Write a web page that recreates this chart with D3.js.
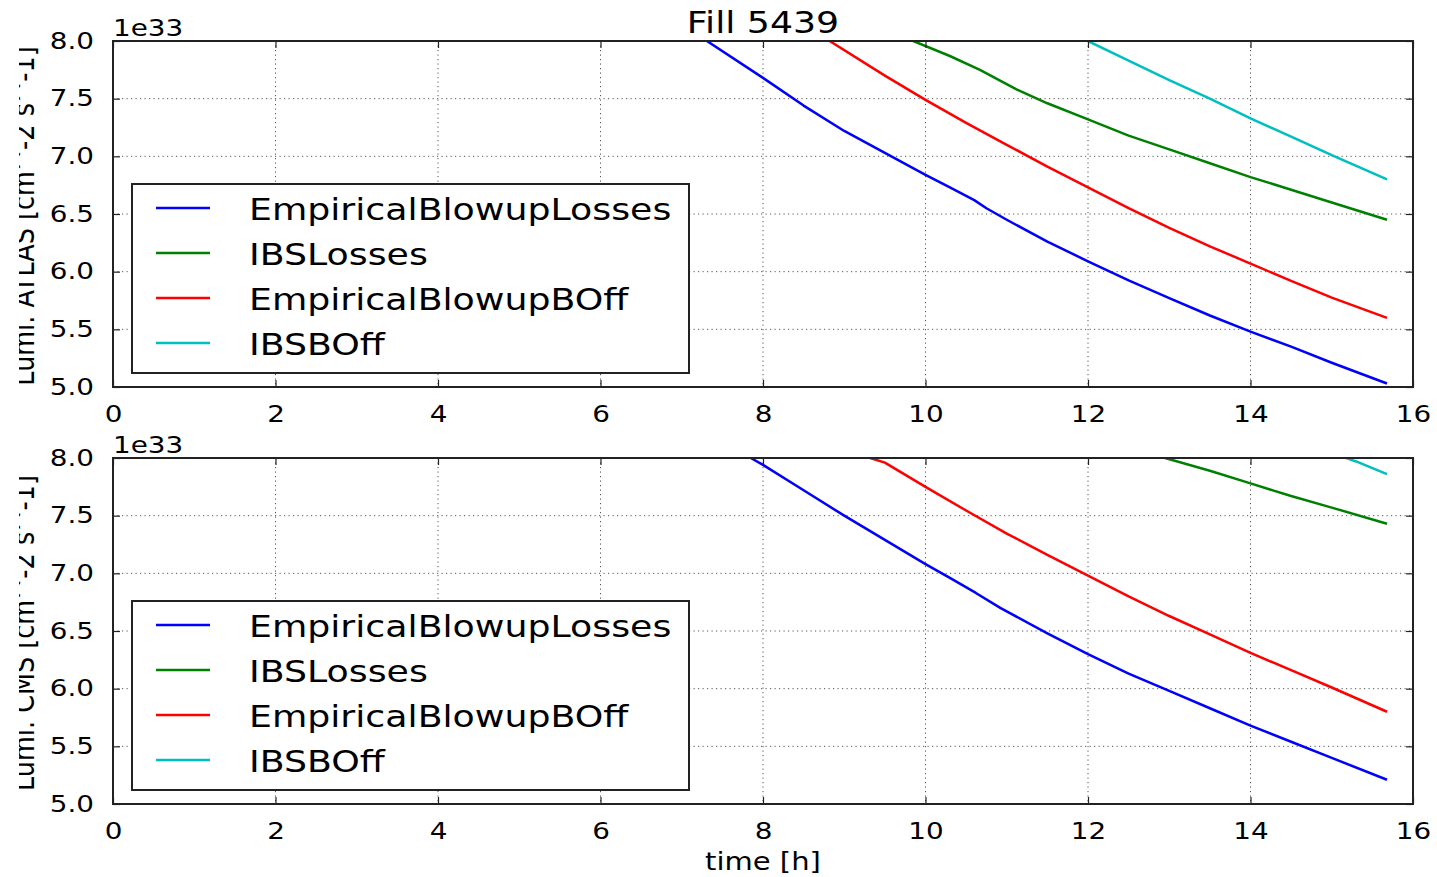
<!DOCTYPE html>
<html>
<head>
<meta charset="utf-8">
<script src="https://cdn.jsdelivr.net/npm/d3@7"></script>
<style>
  html, body { margin: 0; padding: 0; background: #fff; }
  svg { display: block; }
  text { font-family: "DejaVu Sans", sans-serif; fill: #000; }
</style>
</head>
<body>
<svg id="chart" width="1437" height="877"></svg>
<script>
// ---------------- data (luminosity in units of 1e33) ----------------
const seriesNames = ["EmpiricalBlowupLosses", "IBSLosses", "EmpiricalBlowupBOff", "IBSBOff"];
const seriesColors = ["#0000ff", "#008000", "#ff0000", "#00bfbf"];

const xTicks = [0, 2, 4, 6, 8, 10, 12, 14, 16];
const yTicks = [5.0, 5.5, 6.0, 6.5, 7.0, 7.5, 8.0];

// ATLAS panel
const atlasBlowupLossesT = [7.0, 7.31, 8.0, 8.5, 9.0, 9.5, 10.0, 10.3, 10.6, 10.75, 11.0, 11.5, 12.0, 12.5, 13.0, 13.5, 14.0, 14.5, 15.0, 15.68];
const atlasBlowupLossesV = [8.15, 8.0, 7.68, 7.44, 7.22, 7.03, 6.84, 6.73, 6.62, 6.55, 6.45, 6.26, 6.09, 5.925, 5.77, 5.62, 5.48, 5.35, 5.21, 5.03];
const atlasIBSLossesT = [9.6, 9.85, 10.3, 10.67, 11.12, 11.5, 12.0, 12.5, 13.0, 13.5, 14.0, 14.5, 15.0, 15.68];
const atlasIBSLossesV = [8.08, 8.0, 7.87, 7.75, 7.58, 7.46, 7.32, 7.18, 7.06, 6.94, 6.82, 6.71, 6.60, 6.45];
const atlasBlowupBOffT = [8.5, 8.82, 9.5, 10.0, 10.5, 11.0, 11.5, 12.0, 12.5, 13.0, 13.5, 14.0, 14.5, 15.0, 15.68];
const atlasBlowupBOffV = [8.15, 8.0, 7.70, 7.49, 7.29, 7.10, 6.91, 6.73, 6.55, 6.38, 6.22, 6.07, 5.92, 5.775, 5.60];
const atlasIBSBOffT = [11.7, 12.0, 12.5, 13.0, 13.5, 14.0, 14.5, 15.0, 15.68];
const atlasIBSBOffV = [8.10, 8.0, 7.83, 7.66, 7.50, 7.33, 7.17, 7.01, 6.80];

// CMS panel
const cmsBlowupLossesT = [7.6, 7.85, 8.0, 8.5, 9.0, 9.5, 10.0, 10.3, 10.62, 10.92, 11.5, 12.0, 12.5, 13.0, 13.5, 14.0, 14.5, 15.0, 15.68];
const cmsBlowupLossesV = [8.1, 8.0, 7.94, 7.72, 7.50, 7.29, 7.08, 6.96, 6.83, 6.70, 6.48, 6.30, 6.13, 5.98, 5.83, 5.68, 5.54, 5.40, 5.21];
const cmsIBSLossesT = [12.5, 12.95, 13.5, 14.0, 14.5, 15.0, 15.68];
const cmsIBSLossesV = [8.10, 8.0, 7.89, 7.78, 7.67, 7.57, 7.43];
const cmsBlowupBOffT = [9.0, 9.32, 9.5, 10.0, 10.5, 11.0, 11.5, 12.0, 12.5, 13.0, 13.5, 14.0, 14.5, 15.0, 15.68];
const cmsBlowupBOffV = [8.06, 8.0, 7.96, 7.75, 7.545, 7.345, 7.16, 6.98, 6.80, 6.63, 6.47, 6.31, 6.16, 6.01, 5.80];
const cmsIBSBOffT = [14.8, 15.18, 15.3, 15.68];
const cmsIBSBOffV = [8.1, 8.0, 7.97, 7.86];

const titleText = "Fill 5439";
const xLabel = "time [h]";
const offsetText = "1e33";

// ---------------- layout ----------------
const W = 1437, H = 877;
const left = 113, right = 1413;
const SX = 1.21; // horizontal glyph stretch of the reference
const svg = d3.select("#chart");

const x = d3.scaleLinear().domain([0, 16]).range([left, right]);

function zip(t, v) { return t.map((d, i) => ({ t: d, v: v[i] })); }

const panels = [
  {
    top: 41, bottom: 387, ylabel: "Lumi. ATLAS [cm^-2 s^-1]",
    series: [zip(atlasBlowupLossesT, atlasBlowupLossesV), zip(atlasIBSLossesT, atlasIBSLossesV),
             zip(atlasBlowupBOffT, atlasBlowupBOffV), zip(atlasIBSBOffT, atlasIBSBOffV)]
  },
  {
    top: 458, bottom: 804, ylabel: "Lumi. CMS [cm^-2 s^-1]",
    series: [zip(cmsBlowupLossesT, cmsBlowupLossesV), zip(cmsIBSLossesT, cmsIBSLossesV),
             zip(cmsBlowupBOffT, cmsBlowupBOffV), zip(cmsIBSBOffT, cmsIBSBOffV)]
  }
];

// clip for y labels (reference is cropped at the left)
const defs = svg.append("defs");
defs.append("clipPath").attr("id", "ylabClip")
  .append("rect").attr("x", 19).attr("y", 0).attr("width", 60).attr("height", H);

panels.forEach((p, pi) => {
  const y = d3.scaleLinear().domain([5, 8]).range([p.bottom, p.top]);
  const g = svg.append("g");
  const ph = p.bottom - p.top, pw = right - left;

  defs.append("clipPath").attr("id", "plotClip" + pi)
    .append("rect").attr("x", left).attr("y", p.top).attr("width", pw).attr("height", ph);

  // grid
  const grid = g.append("g").attr("stroke", "#555").attr("stroke-width", 1)
    .attr("stroke-dasharray", "1.2,3.3");
  grid.selectAll(".gx").data(xTicks.slice(1, -1)).join("line")
    .attr("x1", d => x(d)).attr("x2", d => x(d)).attr("y1", p.top).attr("y2", p.bottom);
  grid.selectAll(".gy").data(yTicks.slice(1, -1)).join("line")
    .attr("y1", d => y(d)).attr("y2", d => y(d)).attr("x1", left).attr("x2", right);

  // lines
  const line = d3.line().x(d => x(d.t)).y(d => y(d.v));
  const lg = g.append("g").attr("clip-path", `url(#plotClip${pi})`);
  p.series.forEach((s, i) => {
    lg.append("path").datum(s).attr("d", line).attr("fill", "none")
      .attr("stroke", seriesColors[i]).attr("stroke-width", 2.5)
      .attr("stroke-linejoin", "round").attr("stroke-linecap", "butt");
  });

  // axes with inward ticks
  const axB = g.append("g").attr("transform", `translate(0,${p.bottom})`)
    .call(d3.axisBottom(x).tickValues(xTicks).tickSize(-7).tickFormat(d3.format("d")));
  const axT = g.append("g").attr("transform", `translate(0,${p.top})`)
    .call(d3.axisTop(x).tickValues(xTicks).tickSize(-7).tickFormat(""));
  const axL = g.append("g").attr("transform", `translate(${left},0)`)
    .call(d3.axisLeft(y).tickValues(yTicks).tickSize(-7).tickFormat(d3.format(".1f")));
  const axR = g.append("g").attr("transform", `translate(${right},0)`)
    .call(d3.axisRight(y).tickValues(yTicks).tickSize(-7).tickFormat(""));
  [axB, axT, axL, axR].forEach(a => {
    a.select(".domain").remove();
    a.selectAll(".tick line").attr("stroke", "#222").attr("stroke-width", 1.2);
  });
  axB.selectAll(".tick text").attr("y", null).attr("dy", null)
    .attr("transform", `translate(0,35) scale(${SX},1)`)
    .attr("font-size", 23).attr("font-family", "DejaVu Sans").attr("fill", "#000");
  axL.selectAll(".tick text").attr("x", null).attr("dy", null)
    .attr("text-anchor", "end")
    .attr("transform", `translate(-19,7) scale(${SX},1)`)
    .attr("font-size", 23).attr("font-family", "DejaVu Sans").attr("fill", "#000");

  // frame
  g.append("rect").attr("x", left).attr("y", p.top).attr("width", pw).attr("height", ph)
    .attr("fill", "none").attr("stroke", "#222").attr("stroke-width", 2);

  // offset text
  g.append("text").attr("transform", `translate(${left},${p.top - 5}) scale(${SX},1)`)
    .attr("font-size", 23).text(offsetText);

  // y label (clipped at left like the reference)
  const yl = g.append("g").attr("clip-path", "url(#ylabClip)");
  yl.append("text")
    .attr("transform", `translate(34,${(p.top + p.bottom) / 2 + 2}) scale(${SX},1) rotate(-90)`)
    .attr("text-anchor", "middle").attr("font-size", 25.5)
    .text(p.ylabel);

  // legend
  const lgX = 132, lgY = p.top + 143, lgW = 557, lgH = 189;
  const leg = g.append("g");
  leg.append("rect").attr("x", lgX).attr("y", lgY).attr("width", lgW).attr("height", lgH)
    .attr("fill", "#fff").attr("stroke", "#222").attr("stroke-width", 2);
  seriesNames.forEach((n, i) => {
    const ly = p.top + 167 + i * 45;
    leg.append("line").attr("x1", 156).attr("x2", 210).attr("y1", ly).attr("y2", ly)
      .attr("stroke", seriesColors[i]).attr("stroke-width", 2.5);
    leg.append("text").attr("transform", `translate(249,${ly + 12}) scale(${SX},1)`)
      .attr("font-size", 30).text(n);
  });
});

// title
svg.append("text").attr("transform", `translate(${(left + right) / 2},33) scale(${SX},1)`)
  .attr("text-anchor", "middle").attr("font-size", 30).text(titleText);

// x label
svg.append("text").attr("transform", `translate(${(left + right) / 2},870) scale(${SX},1)`)
  .attr("text-anchor", "middle").attr("font-size", 24).text(xLabel);
</script>
</body>
</html>
